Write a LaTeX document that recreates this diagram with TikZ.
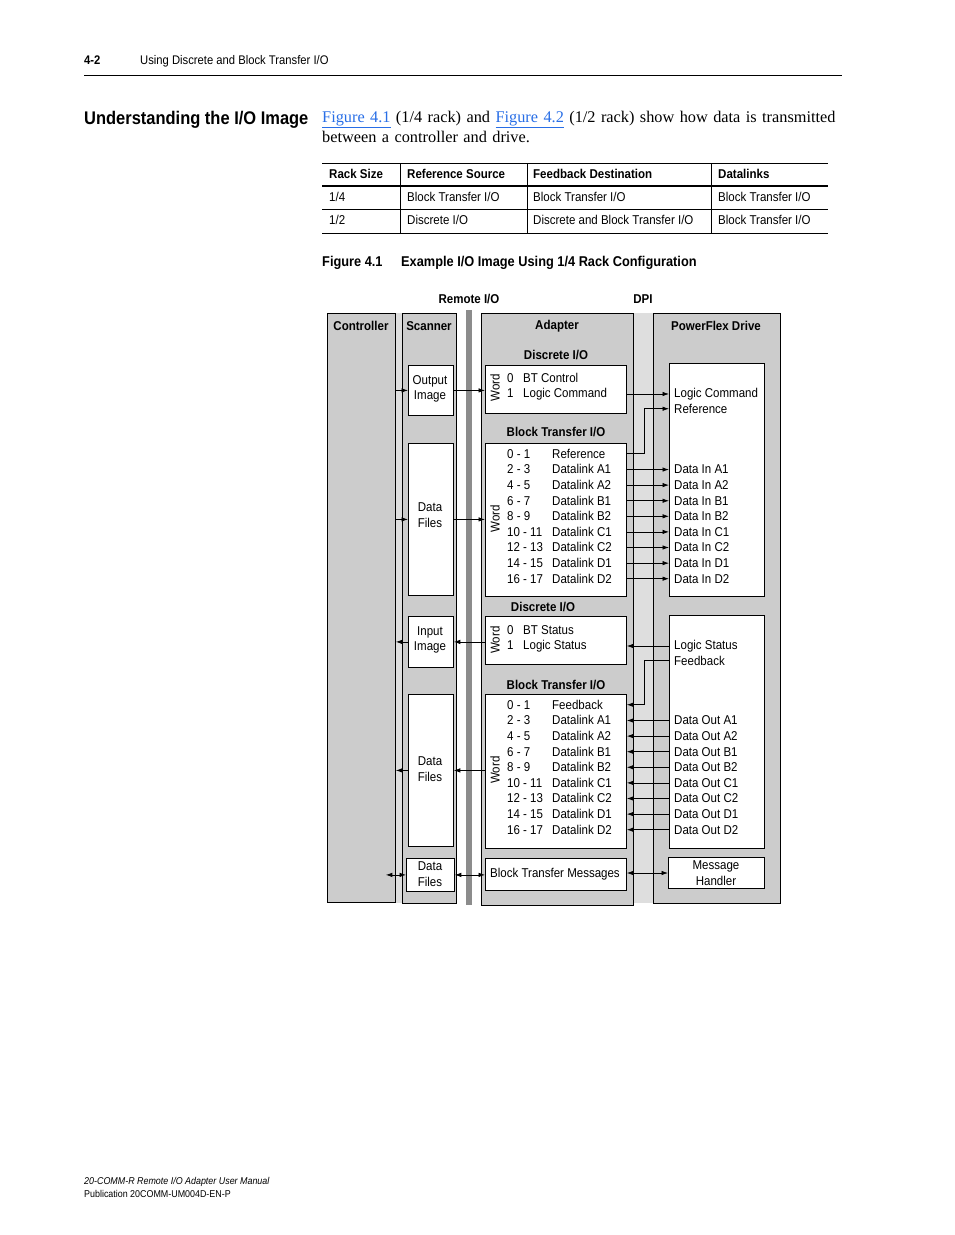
\documentclass[tikz,border=0pt]{standalone}
\usepackage{fontspec}
\setmainfont{Liberation Serif}
\newfontfamily\nar[FakeStretch=0.9]{Liberation Sans}
\usetikzlibrary{arrows.meta,calc}
\definecolor{boxgray}{RGB}{204,204,204}
\definecolor{stripgray}{RGB}{222,222,222}
\definecolor{bargray}{RGB}{140,140,140}
\definecolor{linkblue}{RGB}{40,110,230}
\begin{document}
\begin{tikzpicture}[x=1pt,y=-1pt,
  gbox/.style={draw,line width=0.8pt,fill=boxgray,inner sep=0pt,anchor=north west},
  wbox/.style={draw,line width=0.8pt,fill=white,inner sep=0pt,anchor=north west},
  strip/.style={fill=#1,inner sep=0pt,anchor=north west},
  lab/.style={font=\nar\fontsize{12.8}{15.5}\selectfont,inner sep=0pt},
  ttl/.style={font=\nar\bfseries\fontsize{12.8}{14}\selectfont,inner sep=0pt},
  arr/.style={-{Latex[length=6.5pt,width=4.5pt]},line width=0.75pt},
  arrb/.style={{Latex[length=6.5pt,width=4.5pt]}-{Latex[length=6.5pt,width=4.5pt]},line width=0.75pt}
]
\useasboundingbox (0,0) rectangle (954,1235);
% ---------- page header ----------
\node[font=\nar\bfseries\fontsize{12.5}{14}\selectfont,inner sep=0pt,anchor=mid west] (pg) at (84,62) {4-2};
\node[font=\nar\fontsize{12.5}{14}\selectfont,inner sep=0pt,anchor=mid west] (hd) at (140,62) {Using Discrete and Block Transfer I/O};
\coordinate (r1) at (84,75); \coordinate (r2) at (842,75);
\draw[line width=0.8pt] (r1) -- (r2);
\node[font=\nar\bfseries\fontsize{18.3}{22}\selectfont,inner sep=0pt,anchor=mid west] (sec) at (84,122) {Understanding the I/O Image};
\node[font=\fontsize{16.3}{20}\selectfont,inner sep=0pt,anchor=north west,align=left,text width=540pt] (par) at (322,111)
  {\textcolor{linkblue}{\underline{Figure 4.1}} (1/4 rack) and \textcolor{linkblue}{\underline{Figure 4.2}} (1/2 rack) show how data is transmitted\\between a controller and drive.};
% ---------- table ----------
\coordinate (t0) at (322,163); \coordinate (t0e) at (828,163);
\coordinate (t1) at (322,186); \coordinate (t1e) at (828,186);
\coordinate (t2) at (322,209); \coordinate (t2e) at (828,209);
\coordinate (t3) at (322,233); \coordinate (t3e) at (828,233);
\draw[line width=0.6pt] (t0) -- (t0e);
\draw[line width=1.4pt] (t1) -- (t1e);
\draw[line width=0.6pt] (t2) -- (t2e);
\draw[line width=0.6pt] (t3) -- (t3e);
\foreach \x in {400,527,711} { \draw[line width=0.6pt] (\x,163) -- (\x,233); }
\node[ttl,anchor=mid west] (h1) at (329,176) {Rack Size};
\node[ttl,anchor=mid west] (h2) at (407,176) {Reference Source};
\node[ttl,anchor=mid west] (h3) at (533,176) {Feedback Destination};
\node[ttl,anchor=mid west] (h4) at (718,176) {Datalinks};
\node[lab,anchor=mid west] (a1) at (329,199) {1/4};
\node[lab,anchor=mid west] (a2) at (407,199) {Block Transfer I/O};
\node[lab,anchor=mid west] (a3) at (533,199) {Block Transfer I/O};
\node[lab,anchor=mid west] (a4) at (718,199) {Block Transfer I/O};
\node[lab,anchor=mid west] (b1) at (329,222) {1/2};
\node[lab,anchor=mid west] (b2) at (407,222) {Discrete I/O};
\node[lab,anchor=mid west] (b3) at (533,222) {Discrete and Block Transfer I/O};
\node[lab,anchor=mid west] (b4) at (718,222) {Block Transfer I/O};
% ---------- caption ----------
\node[font=\nar\bfseries\fontsize{14.2}{16}\selectfont,inner sep=0pt,anchor=mid west] (cap1) at (322,264) {Figure 4.1};
\node[font=\nar\bfseries\fontsize{14.2}{16}\selectfont,inner sep=0pt,anchor=mid west] (cap2) at (401,264) {Example I/O Image Using 1/4 Rack Configuration};
% ---------- diagram background ----------
\node[ttl] (rio) at (469,299) {Remote I/O};
\node[ttl] (dpi) at (643,299) {DPI};
\node[strip=stripgray,minimum width=7pt,minimum height=590pt] (s1) at (395,313) {};
\node[strip=bargray,minimum width=6pt,minimum height=595pt] (bar) at (466,310) {};
\node[strip=stripgray,minimum width=20pt,minimum height=590pt] (s2) at (633,313) {};
\node[gbox,minimum width=68pt,minimum height=589pt] (ctrl) at (327,313) {};
\node[gbox,minimum width=54pt,minimum height=590pt] (scan) at (402,313) {};
\node[gbox,minimum width=152pt,minimum height=592pt] (adapt) at (481,313) {};
\node[gbox,minimum width=127pt,minimum height=590pt] (drive) at (653,313) {};
\node[ttl] (tctrl) at (361,326) {Controller};
\node[ttl] (tscan) at (429,326) {Scanner};
\node[ttl] (tadapt) at (557,326) {Adapter};
\node[ttl] (tdrive) at (716,326) {PowerFlex Drive};
% ---------- scanner boxes ----------
\node[wbox,minimum width=45pt,minimum height=50pt] (outimg) at (408,365) {};
\node[lab,align=center] (toutimg) at (430,389) {Output\\Image};
\node[wbox,minimum width=45pt,minimum height=152pt] (df1) at (408,443) {};
\node[lab,align=center] (tdf1) at (430,515) {Data\\Files};
\node[wbox,minimum width=45pt,minimum height=51pt] (inimg) at (408,616) {};
\node[lab,align=center] (tinimg) at (430,640) {Input\\Image};
\node[wbox,minimum width=45pt,minimum height=152pt] (df2) at (408,694) {};
\node[lab,align=center] (tdf2) at (430,769) {Data\\Files};
\node[wbox,minimum width=48pt,minimum height=33pt] (df3) at (406,858) {};
\node[lab,align=center] (tdf3) at (430,874) {Data\\Files};
% ---------- adapter boxes ----------
\node[ttl] (tdio1) at (556,355) {Discrete I/O};
\node[wbox,minimum width=141pt,minimum height=48pt] (dio1) at (485,365) {};
\node[ttl] (tbt1) at (556,432) {Block Transfer I/O};
\node[wbox,minimum width=141pt,minimum height=153pt] (bt1) at (485,443) {};
\node[ttl] (tdio2) at (543,607) {Discrete I/O};
\node[wbox,minimum width=141pt,minimum height=48pt] (dio2) at (485,616) {};
\node[ttl] (tbt2) at (556,685) {Block Transfer I/O};
\node[wbox,minimum width=141pt,minimum height=154pt] (bt2) at (485,694) {};
\node[wbox,minimum width=141pt,minimum height=32pt] (btm) at (485,858) {};
\node[lab] (tbtm) at (555,874) {Block Transfer Messages};
% ---------- drive boxes ----------
\node[wbox,minimum width=95pt,minimum height=233pt] (drv1) at (669,363) {};
\node[wbox,minimum width=95pt,minimum height=233pt] (drv2) at (669,615) {};
\node[wbox,minimum width=96pt,minimum height=31pt] (mh) at (668,857) {};
\node[lab,align=center] (tmh) at (716,873) {Message\\Handler};
% ---------- discrete texts ----------
\node[lab,rotate=90] (w1) at (495,388) {Word};
\node[lab,anchor=mid west] (d1n0) at (507,380) {0};
\node[lab,anchor=mid west] (d1t0) at (523,380) {BT Control};
\node[lab,anchor=mid west] (d1n1) at (507,395) {1};
\node[lab,anchor=mid west] (d1t1) at (523,395) {Logic Command};
\node[lab,rotate=90] (w3) at (495,640) {Word};
\node[lab,anchor=mid west] (d2n0) at (507,632) {0};
\node[lab,anchor=mid west] (d2t0) at (523,632) {BT Status};
\node[lab,anchor=mid west] (d2n1) at (507,647) {1};
\node[lab,anchor=mid west] (d2t1) at (523,647) {Logic Status};
\node[lab,anchor=mid west] (lc) at (674,395) {Logic Command};
\node[lab,anchor=mid west] (rf) at (674,411) {Reference};
\node[lab,anchor=mid west] (ls) at (674,647) {Logic Status};
\node[lab,anchor=mid west] (fb) at (674,663) {Feedback};
% ---------- block transfer texts ----------
\node[lab,rotate=90] (w2) at (495,519) {Word};
\node[lab,rotate=90] (w4) at (495,770) {Word};
\foreach \i/\n/\a/\b in {0/0 - 1/Reference/Feedback,1/2 - 3/Datalink A1/Datalink A1,2/4 - 5/Datalink A2/Datalink A2,3/6 - 7/Datalink B1/Datalink B1,4/8 - 9/Datalink B2/Datalink B2,5/10 - 11/Datalink C1/Datalink C1,6/12 - 13/Datalink C2/Datalink C2,7/14 - 15/Datalink D1/Datalink D1,8/16 - 17/Datalink D2/Datalink D2} {
  \node[lab,anchor=mid west] (an\i) at (507,456+15.6*\i) {\n};
  \node[lab,anchor=mid west] (at\i) at (552,456+15.6*\i) {\a};
  \node[lab,anchor=mid west] (bbn\i) at (507,707+15.6*\i) {\n};
  \node[lab,anchor=mid west] (bbt\i) at (552,707+15.6*\i) {\b};
}
\foreach \i/\l in {1/A1,2/A2,3/B1,4/B2,5/C1,6/C2,7/D1,8/D2} {
  \node[lab,anchor=mid west] (din\i) at (674,456+15.6*\i) {Data In \l};
  \node[lab,anchor=mid west] (dout\i) at (674,707+15.6*\i) {Data Out \l};
  \draw[arr] (bt1.east |- din\i) -- (drv1.west |- din\i);
  \draw[arr] (drv2.west |- dout\i) -- (bt2.east |- dout\i);
}
% ---------- connectors ----------
\draw[arr] (ctrl.east |- outimg.west) -- (outimg.west);
\draw[arr] (outimg.east) -- (dio1.west |- outimg.east);
\draw[arr] (ctrl.east |- df1.west) -- (df1.west);
\draw[arr] (df1.east) -- (bt1.west |- df1.east);
\draw[arr] (inimg.west) -- (ctrl.east |- inimg.west);
\draw[arr] (dio2.west |- inimg.east) -- (inimg.east);
\draw[arr] (df2.west) -- (ctrl.east |- df2.west);
\draw[arr] (bt2.west |- df2.east) -- (df2.east);
\draw[arrb] ([xshift=-10pt]ctrl.east |- df3.west) -- (df3.west);
\draw[arrb] (df3.east) -- (btm.west |- df3.east);
\draw[arrb] (btm.east |- tmh) -- (mh.west |- tmh);
\draw[arr] (dio1.east |- lc) -- (drv1.west |- lc);
\draw[arr] (bt1.east |- at0) -- ++(18,0) |- (drv1.west |- rf);
\draw[arr] (drv2.west |- ls) -- (dio2.east |- ls);
\draw[arr] (drv2.west |- fb) -- ++(-25,0) |- (bt2.east |- bbt0);
% ---------- footer ----------
\node[font=\nar\itshape\fontsize{9.9}{12}\selectfont,inner sep=0pt,anchor=mid west] (f1) at (84,1182) {20-COMM-R Remote I/O Adapter User Manual};
\node[font=\nar\fontsize{9.9}{12}\selectfont,inner sep=0pt,anchor=mid west] (f2) at (84,1195) {Publication 20COMM-UM004D-EN-P};
\end{tikzpicture}
\end{document}
